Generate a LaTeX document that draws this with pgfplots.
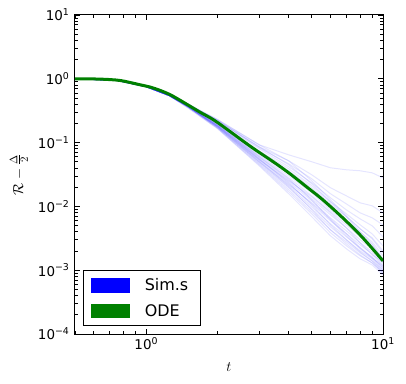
\documentclass[border=0pt]{standalone}
\usepackage{fontspec}
\setmainfont{DejaVu Sans}
\usepackage{pgfplots}
\pgfplotsset{compat=1.18}
\definecolor{odegreen}{RGB}{0,128,0}

\begin{document}
\begin{tikzpicture}
\begin{axis}[
  scale only axis,
  width=308bp, height=319bp,
  xmode=log, ymode=log,
  xmin=0.5, xmax=10,
  ymin=1e-4, ymax=10,
  xtick={1,10},
  xticklabels={10\textsuperscript{0},10\textsuperscript{1}},
  minor xtick={0.5,0.6,0.7,0.8,0.9,2,3,4,5,6,7,8,9},
  ytick={1e-4,1e-3,1e-2,1e-1,1,10},
  yticklabels={10\textsuperscript{−4},10\textsuperscript{−3},10\textsuperscript{−2},10\textsuperscript{−1},10\textsuperscript{0},10\textsuperscript{1}},
  minor ytick={2e-4,3e-4,4e-4,5e-4,6e-4,7e-4,8e-4,9e-4,
               2e-3,3e-3,4e-3,5e-3,6e-3,7e-3,8e-3,9e-3,
               2e-2,3e-2,4e-2,5e-2,6e-2,7e-2,8e-2,9e-2,
               0.2,0.3,0.4,0.5,0.6,0.7,0.8,0.9,2,3,4,5,6,7,8,9},
  tick pos=both,
  tick align=inside,
  major tick length=5bp,
  minor tick length=2.7bp,
  tick style={black, line width=0.8bp},
  axis line style={black, line width=1bp},
  ticklabel style={font=\fontsize{13.5}{16}\selectfont},
  yticklabel style={xshift=-2bp},
  xlabel={$t$},
  ylabel={$\mathcal{R}-\frac{\Delta}{2}$},
  label style={font=\fontsize{15}{18}\selectfont},
  xlabel style={at={(axis description cs:0.5,-0.1035)}, anchor=center},
  ylabel style={at={(axis description cs:-0.182,0.5)}, anchor=center},
  sim/.style={blue, opacity=0.1, line width=1bp, forget plot},
  legend style={at={(rel axis cs:0.027,0.025)}, anchor=south west,
    draw=black, line width=1bp, font=\fontsize{16}{18}\selectfont,
    inner xsep=7bp, inner ysep=6bp, row sep=8bp,
    cells={anchor=west},
    /tikz/every odd column/.append style={column sep=13bp}},
]
% simulations
\addplot[sim] coordinates {(0.5,1) (0.75,0.945) (1,0.765) (1.25,0.565) (1.5,0.405) (2,0.230) (3,0.0924) (4,0.0642) (5,0.0501) (6,0.0403) (7,0.0375) (8,0.0362) (9,0.0336) (10,0.028)};
\addplot[sim] coordinates {(0.5,1) (0.75,0.945) (1,0.765) (1.25,0.565) (1.5,0.405) (2,0.222) (3,0.0859) (4,0.0517) (5,0.0313) (6,0.0196) (7,0.01464) (8,0.01138) (9,0.01022) (10,0.00791)};
\addplot[sim] coordinates {(0.5,1) (0.75,0.945) (1,0.765) (1.25,0.565) (1.5,0.391) (2,0.222) (3,0.0829) (4,0.0465) (5,0.0271) (6,0.0158) (7,0.01096) (8,0.00793) (9,0.00663) (10,0.00512)};
\addplot[sim] coordinates {(0.5,1) (0.75,0.945) (1,0.765) (1.25,0.565) (1.5,0.391) (2,0.214) (3,0.0799) (4,0.0417) (5,0.02346) (6,0.01363) (7,0.00884) (8,0.00639) (9,0.00496) (10,0.00333)};
\addplot[sim] coordinates {(0.5,1) (0.75,0.945) (1,0.765) (1.25,0.565) (1.5,0.377) (2,0.2065) (3,0.0744) (4,0.0388) (5,0.02105) (6,0.0118) (7,0.00766) (8,0.00515) (9,0.00371) (10,0.00241)};
\addplot[sim] coordinates {(0.5,1) (0.75,0.945) (1,0.75) (1.25,0.545) (1.5,0.377) (2,0.1992) (3,0.0692) (4,0.0361) (5,0.01957) (6,0.01097) (7,0.00688) (8,0.00446) (9,0.00322) (10,0.00201)};
\addplot[sim] coordinates {(0.5,1) (0.75,0.945) (1,0.75) (1.25,0.545) (1.5,0.377) (2,0.192) (3,0.0644) (4,0.0324) (5,0.01757) (6,0.00985) (7,0.00617) (8,0.0040) (9,0.00278) (10,0.00168)};
\addplot[sim] coordinates {(0.5,1) (0.75,0.945) (1,0.75) (1.25,0.545) (1.5,0.377) (2,0.192) (3,0.0621) (4,0.0301) (5,0.01634) (6,0.00884) (7,0.00554) (8,0.00359) (9,0.0025) (10,0.00151)};
\addplot[sim] coordinates {(0.5,1) (0.75,0.945) (1,0.75) (1.25,0.545) (1.5,0.377) (2,0.192) (3,0.0599) (4,0.0281) (5,0.01467) (6,0.00823) (7,0.00515) (8,0.00334) (9,0.00232) (10,0.0014)};
\addplot[sim] coordinates {(0.5,1) (0.75,0.945) (1,0.75) (1.25,0.545) (1.5,0.377) (2,0.1852) (3,0.0578) (4,0.0261) (5,0.01316) (6,0.00738) (7,0.00462) (8,0.0030) (9,0.00216) (10,0.0013)};
\addplot[sim] coordinates {(0.5,1) (0.75,0.945) (1,0.75) (1.25,0.545) (1.5,0.364) (2,0.1852) (3,0.0557) (4,0.0243) (5,0.01225) (6,0.00662) (7,0.00415) (8,0.00269) (9,0.00194) (10,0.00121)};
\addplot[sim] coordinates {(0.5,1) (0.75,0.945) (1,0.75) (1.25,0.545) (1.5,0.364) (2,0.1788) (3,0.0538) (4,0.0226) (5,0.0110) (6,0.00595) (7,0.00373) (8,0.0025) (9,0.00181) (10,0.00113)};
\addplot[sim] coordinates {(0.5,1) (0.75,0.945) (1,0.75) (1.25,0.545) (1.5,0.364) (2,0.1788) (3,0.0518) (4,0.021) (5,0.00986) (6,0.00533) (7,0.00334) (8,0.00225) (9,0.00162) (10,0.00105)};
\addplot[sim] coordinates {(0.5,1) (0.75,0.945) (1,0.75) (1.25,0.545) (1.5,0.364) (2,0.1724) (3,0.0482) (4,0.01956) (5,0.00917) (6,0.00479) (7,0.003) (8,0.00201) (9,0.00151) (10,0.00098)};
\addplot[sim] coordinates {(0.5,1) (0.75,0.945) (1,0.75) (1.25,0.545) (1.5,0.364) (2,0.1724) (3,0.0465) (4,0.01818) (5,0.00824) (6,0.00429) (7,0.00279) (8,0.00187) (9,0.0014) (10,0.00091)};
\addplot[sim] coordinates {(0.5,1) (0.75,0.945) (1,0.75) (1.25,0.545) (1.5,0.351) (2,0.1662) (3,0.0449) (4,0.01693) (5,0.00766) (6,0.00386) (7,0.00242) (8,0.00168) (9,0.0013) (10,0.00088)};
\addplot[sim] coordinates {(0.5,1) (0.75,0.945) (1,0.75) (1.25,0.545) (1.5,0.351) (2,0.1662) (3,0.0433) (4,0.01576) (5,0.00689) (6,0.00346) (7,0.00217) (8,0.00151) (9,0.00121) (10,0.00084)};
\addplot[sim] coordinates {(0.5,1) (0.75,0.945) (1,0.75) (1.25,0.545) (1.5,0.364) (2,0.1788) (3,0.05) (4,0.02026) (5,0.00886) (6,0.00429) (7,0.00259) (8,0.00174) (9,0.0013) (10,0.00094)};
\addplot[sim] coordinates {(0.5,1) (0.75,0.945) (1,0.75) (1.25,0.545) (1.5,0.377) (2,0.1852) (3,0.0557) (4,0.0234) (5,0.0106) (6,0.00514) (7,0.003) (8,0.00194) (9,0.0014) (10,0.00101)};
\addplot[sim] coordinates {(0.5,1) (0.75,0.945) (1,0.75) (1.25,0.545) (1.5,0.364) (2,0.1724) (3,0.05) (4,0.0218) (5,0.0114) (6,0.00638) (7,0.00373) (8,0.00225) (9,0.00156) (10,0.00109)};
\addplot[sim] coordinates {(0.5,1) (0.75,0.945) (1,0.75) (1.25,0.545) (1.5,0.377) (2,0.1852) (3,0.0599) (4,0.0271) (5,0.0127) (6,0.00617) (7,0.00346) (8,0.00216) (9,0.00156) (10,0.00117)};
\addplot[sim] coordinates {(0.5,1) (0.75,0.945) (1,0.75) (1.25,0.545) (1.5,0.364) (2,0.1788) (3,0.0538) (4,0.0252) (5,0.01414) (6,0.00793) (7,0.00462) (8,0.00269) (9,0.00174) (10,0.00135)};
\addplot[sim] coordinates {(0.5,1) (0.75,0.945) (1,0.765) (1.25,0.565) (1.5,0.391) (2,0.222) (3,0.0859) (4,0.0449) (5,0.02261) (6,0.0118) (7,0.00688) (8,0.004) (9,0.00259) (10,0.00145)};
\addplot[sim] coordinates {(0.5,1) (0.75,0.945) (1,0.765) (1.25,0.565) (1.5,0.391) (2,0.230) (3,0.0924) (4,0.0517) (5,0.02521) (6,0.01268) (7,0.00713) (8,0.00446) (9,0.0031) (10,0.00187)};
% ODE
\addplot[smooth, odegreen, line width=3bp, forget plot] coordinates {
  (0.5,1.0) (0.637,0.989) (0.775,0.941) (0.943,0.805) (1.04,0.741) (1.147,0.656)
  (1.265,0.561) (1.395,0.457) (1.539,0.368) (1.697,0.296) (1.872,0.242) (2.065,0.190)
  (2.771,0.0859) (3.54,0.0465) (4.10,0.0313) (4.75,0.0203) (5.50,0.0132)
  (6.69,0.00687) (8.14,0.00334) (10,0.0014)
};
\addlegendimage{legend image code/.code={\fill[blue] (0bp,-6.75bp) rectangle (38bp,6.75bp);}}
\addlegendentry{Sim.s\kern3bp}
\addlegendimage{legend image code/.code={\fill[odegreen] (0bp,-6.75bp) rectangle (38bp,6.75bp);}}
\addlegendentry{ODE}
\end{axis}
\path (current axis.south west) ++(-75bp,-50bp) rectangle ([shift={(23bp,15bp)}]current axis.north east);
\end{tikzpicture}
\end{document}
